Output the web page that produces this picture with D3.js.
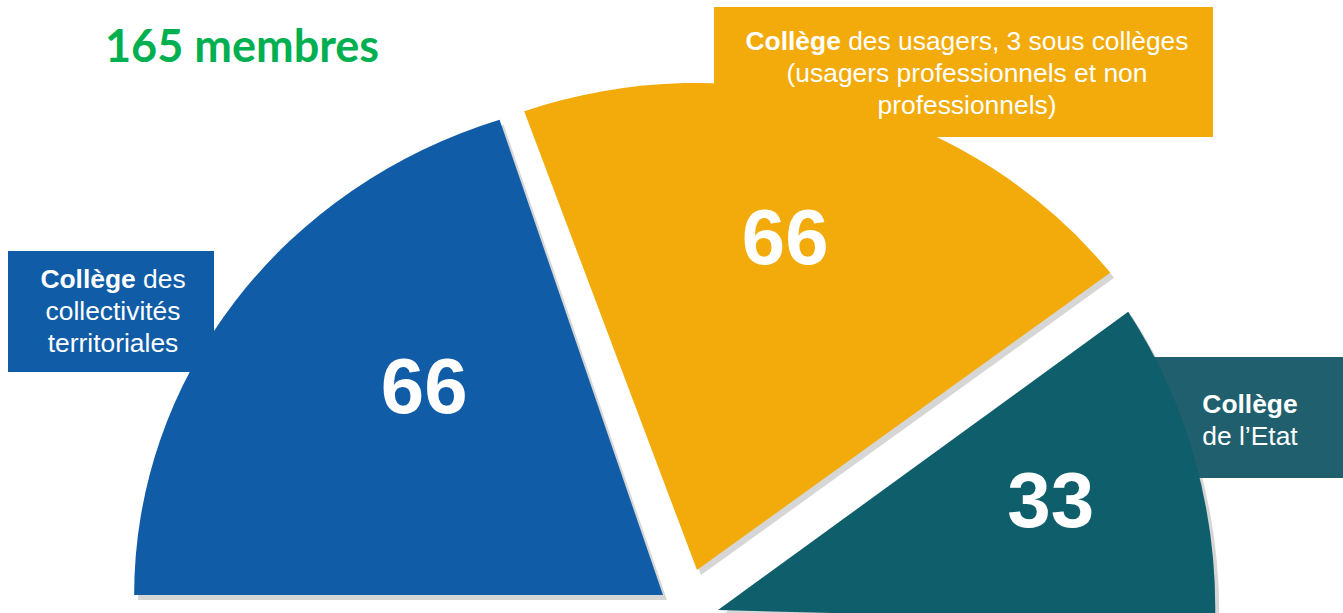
<html>
<head>
<meta charset="utf-8">
<style>
body { margin: 0; background: #fff; }
svg { display: block; }
.box-text { font-family: "Liberation Sans", Arial, sans-serif; font-size: 26.4px; fill: #fff; }
.num { font-family: "Liberation Sans", Arial, sans-serif; font-weight: bold; font-size: 78px; fill: #fff; text-anchor: middle; }
.title { font-family: Lato, "Open Sans", sans-serif; font-weight: bold; font-size: 45px; fill: #00b050; }
</style>
</head>
<body>
<svg width="1343" height="613"></svg>
<script src="https://cdn.jsdelivr.net/npm/d3@7"></script>
<script>

// data
var colleges = ["collectivites", "usagers", "etat"];
var members = [66, 66, 33];
var totalLabel = "165 membres";
// label lines: [text, bold]
var boxLines = [
  [[["Collège", true], [" des", false]], [["collectivités", false]], [["territoriales", false]]],
  [[["Collège", true], [" des usagers, 3 sous collèges", false]], [["(usagers professionnels et non", false]], [["professionnels)", false]]],
  [[["Collège", true]], [["de l\u2019Etat", false]]]
];

// styling / layout
var sliceColors = ["#105ca7", "#f2ab0b", "#0f5e6b"];
var boxColors = ["#105ca7", "#f2ab0b", "#1f5f6e"];
var R = 510;
var layout = [
  {vx: 663, vy: 595, sx: 1.037, sy: 0.98, rot: 0, nudge: [38, -20]},
  {vx: 697, vy: 570, sx: 1.02, sy: 0.955, rot: -1.5, nudge: [-8, -32]},
  {vx: 718, vy: 610, sx: 0.975, sy: 1.03, rot: 1.5, nudge: [24, -14]}
];
var boxes = [
  {x: 8, y: 251, w: 206, h: 121, cx: 113, y0: 288},
  {x: 714, y: 7, w: 499, h: 130, cx: 967, y0: 50},
  {x: 1145, y: 357, w: 198, h: 121, cx: 1250, y0: 413}
];
var lineH = 32;

var svg = d3.select("svg");

var pie = d3.pie().sort(null)
  .startAngle(-Math.PI / 2)
  .endAngle(Math.PI / 2);
var arcs = pie(members);

var arc = d3.arc().innerRadius(0).outerRadius(R);
var labelArc = d3.arc().innerRadius(330).outerRadius(330);

function tf(l, dx, dy) {
  return "translate(" + (l.vx + dx) + "," + (l.vy + dy) + ") rotate(" + l.rot + ") scale(" + l.sx + "," + l.sy + ")";
}

// shadows
svg.append("g").selectAll("path")
  .data(arcs)
  .enter().append("path")
  .attr("d", arc)
  .attr("fill", "#d6d6d6")
  .attr("transform", function(d, i) { return tf(layout[i], 4, 5); });

function drawBox(i) {
  var b = boxes[i];
  var g = svg.append("g");
  g.append("rect")
    .attr("x", b.x).attr("y", b.y)
    .attr("width", b.w).attr("height", b.h)
    .attr("fill", boxColors[i]);
  var t = g.append("text").attr("class", "box-text").attr("text-anchor", "middle");
  boxLines[i].forEach(function(line, k) {
    var tl = t.append("tspan").attr("x", b.cx).attr("y", b.y0 + k * lineH);
    line.forEach(function(part) {
      tl.append("tspan")
        .attr("font-weight", part[1] ? "bold" : "normal")
        .text(part[0]);
    });
  });
}

// teal box sits under its slice
drawBox(2);

// slices
svg.append("g").selectAll("path")
  .data(arcs)
  .enter().append("path")
  .attr("class", function(d, i) { return "slice " + colleges[i]; })
  .attr("d", arc)
  .attr("fill", function(d, i) { return sliceColors[i]; })
  .attr("transform", function(d, i) { return tf(layout[i], 0, 0); });

drawBox(0);
drawBox(1);

// numbers
svg.append("g").selectAll("text")
  .data(arcs)
  .enter().append("text")
  .attr("class", "num")
  .attr("dy", "0.36em")
  .attr("transform", function(d, i) {
    var l = layout[i], c = labelArc.centroid(d);
    var x = c[0] * l.sx, y = c[1] * l.sy;
    var a = l.rot * Math.PI / 180;
    var xr = x * Math.cos(a) - y * Math.sin(a);
    var yr = x * Math.sin(a) + y * Math.cos(a);
    return "translate(" + (l.vx + xr + l.nudge[0]) + "," + (l.vy + yr + l.nudge[1]) + ")";
  })
  .text(function(d) { return d.data; });

// title
svg.append("text")
  .attr("class", "title")
  .attr("x", 105).attr("y", 62)
  .text(totalLabel);

</script>
</body>
</html>
